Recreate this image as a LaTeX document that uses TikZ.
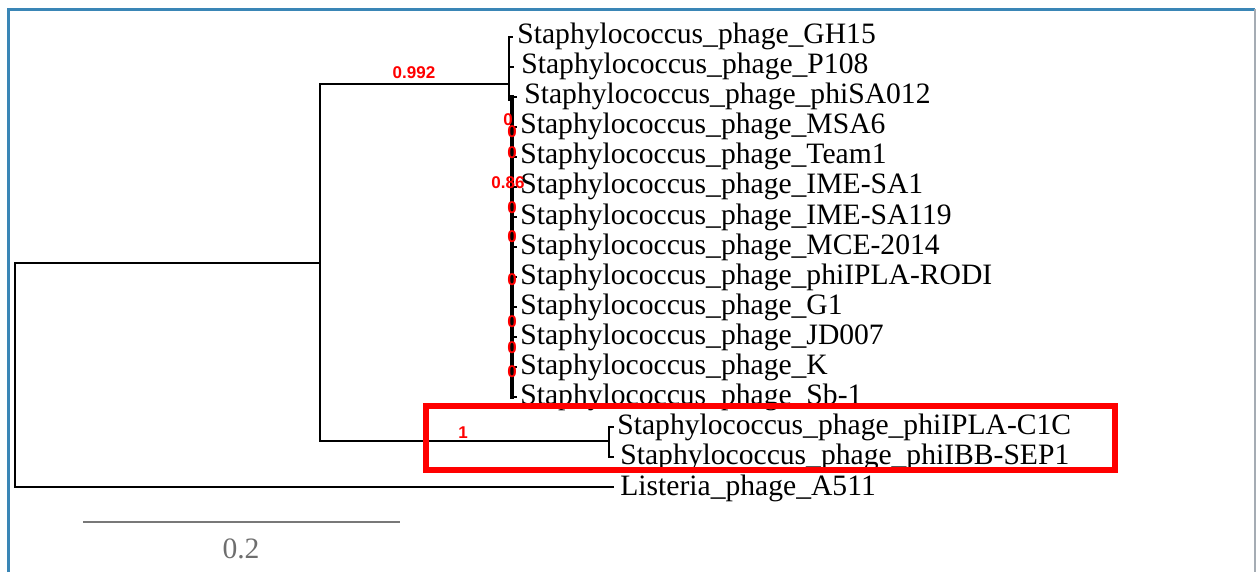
\documentclass[tikz,border=0pt]{standalone}
\usepackage{fontspec}
\setmainfont{Liberation Serif}
\newfontfamily\supfont{Liberation Sans}
\definecolor{frameblue}{RGB}{58,134,182}
\definecolor{framegray}{RGB}{165,172,180}
\definecolor{barGray}{RGB}{120,120,120}
\definecolor{barText}{RGB}{110,110,110}
\begin{document}
\begin{tikzpicture}[x=0.5pt,y=-0.5pt,
  br/.style={line width=1.45pt,black,line cap=rect},
  tip/.style={anchor=base west,inner sep=0pt,font=\fontsize{14.8}{16}\selectfont},
  sup/.style={text=red,inner sep=0pt,font=\supfont\bfseries\fontsize{8.5}{9}\selectfont},
  hl/.style={draw=red,line width=3pt},
  frameb/.style={draw=frameblue,line width=1.5pt},
  framer/.style={draw=framegray,line width=0.8pt}]
\useasboundingbox (0,0) rectangle (1256,572);
% frame
\coordinate (f1) at (8,572);
\coordinate (f2) at (8,9.5);
\coordinate (f3) at (1255,9.5);
\coordinate (f4) at (1255,572);
\draw[frameb] (f1) -- (f2) -- (f3);
\draw[framer] (f3) -- (f4);
% tip labels
\node[tip] (t0) at (517,44) {Staphylococcus\_phage\_GH15};
\node[tip] (t1) at (521,74) {Staphylococcus\_phage\_P108};
\node[tip] (t2) at (524,104) {Staphylococcus\_phage\_phiSA012};
\node[tip] (t3) at (520,134) {Staphylococcus\_phage\_MSA6};
\node[tip] (t4) at (520,164) {Staphylococcus\_phage\_Team1};
\node[tip] (t5) at (520,194) {Staphylococcus\_phage\_IME-SA1};
\node[tip] (t6) at (520,224) {Staphylococcus\_phage\_IME-SA119};
\node[tip] (t7) at (520,254) {Staphylococcus\_phage\_MCE-2014};
\node[tip] (t8) at (520,284) {Staphylococcus\_phage\_phiIPLA-RODI};
\node[tip] (t9) at (520,314) {Staphylococcus\_phage\_G1};
\node[tip] (t10) at (520,344) {Staphylococcus\_phage\_JD007};
\node[tip] (t11) at (520,374) {Staphylococcus\_phage\_K};
\node[tip] (t12) at (520,404) {Staphylococcus\_phage\_Sb-1};
\node[tip] (t13) at (617,434) {Staphylococcus\_phage\_phiIPLA-C1C};
\node[tip] (t14) at (620,464) {Staphylococcus\_phage\_phiIBB-SEP1};
\node[tip] (t15) at (620,495) {Listeria\_phage\_A511};
% tree coordinates
\coordinate (Rt) at (15,263);
\coordinate (Rb) at (15,487);
\coordinate (Lt) at (613,487);
\coordinate (At) at (320,84);
\coordinate (A) at (320,263);
\coordinate (Ab) at (320,441);
\coordinate (Bm) at (509,84);
\coordinate (Bt) at (509,37);
\coordinate (Bb) at (509,100);
\coordinate (C) at (609,441);
\coordinate (Ct) at (609,427);
\coordinate (Cb) at (609,457);
\coordinate (Dt) at (512,97);
\coordinate (Db) at (512,397);
% branches
\draw[br] (A) -- (Rt) -- (Rb) -- (Lt);
\draw[br] (Bm) -- (At) -- (Ab) -- (C);
\draw[br] (Bt) -- (Bb);
\draw[br] (Ct) -- (Cb);
\draw[br,line width=1.9pt] (Dt) -- (Db);
\foreach \y/\x in {37/512,67/513}{
  \coordinate (tk) at (509,\y); \coordinate (te) at (\x,\y);
  \draw[br] (tk) -- (te);}
\foreach \y in {97,127,157,187,217,247,277,307,337,367,397}{
  \coordinate (tk) at (512,\y); \coordinate (te) at (516,\y);
  \draw[br] (tk) -- (te);}
\foreach \y in {427,457}{
  \coordinate (tk) at (609,\y); \coordinate (te) at (613,\y);
  \draw[br] (tk) -- (te);}
% support values
\node[sup] (s0) at (414,73) {0.992};
\node[sup] (s1) at (463,433) {1};
\node[sup] (s2) at (508,183) {0.86};
\foreach \x/\y [count=\i] in {508/120,512/132,512/153,512/208,512/237,512/280,512/322,512/348,512/372}{
  \node[sup] (z\i) at (\x,\y) {0};}
% highlight box
\coordinate (h1) at (425.5,405.5);
\coordinate (h2) at (1115,469.5);
\draw[hl] (h1) rectangle (h2);
% scale bar
\coordinate (sb1) at (83,522);
\coordinate (sb2) at (400,522);
\draw[line width=1pt,draw=barGray] (sb1) -- (sb2);
\node[inner sep=0pt,text=barText,font=\fontsize{14.8}{16}\selectfont] (sbl) at (241,549) {0.2};
\end{tikzpicture}
\end{document}
